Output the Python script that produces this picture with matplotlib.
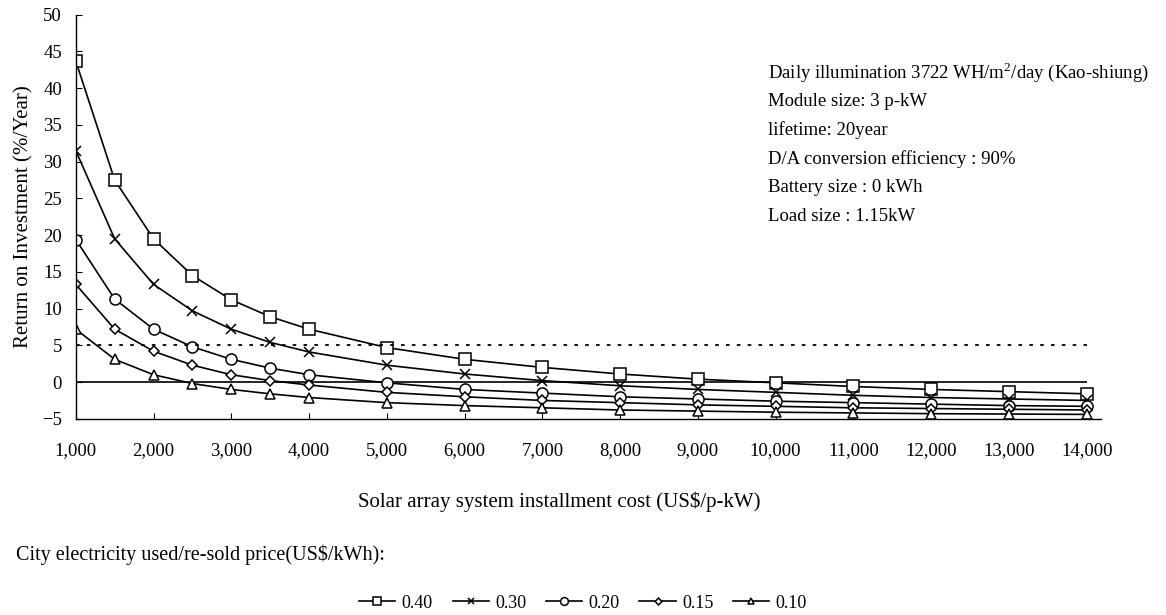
import numpy as np
import matplotlib.pyplot as plt

plt.rcParams['font.family'] = ['Liberation Serif', 'DejaVu Serif']
plt.rcParams['mathtext.fontset'] = 'custom'
plt.rcParams['mathtext.rm'] = 'Liberation Serif'

# installment cost (US$/p-kW)
cost = [1000, 1500, 2000, 2500, 3000, 3500, 4000, 5000, 6000, 7000,
        8000, 9000, 10000, 11000, 12000, 13000, 14000]

# return on investment (%/year) for each electricity price
roi_040 = [43.7, 27.5, 19.5, 14.5, 11.2, 8.9, 7.2, 4.7, 3.1, 2.0,
           1.1, 0.4, -0.1, -0.6, -1.0, -1.3, -1.6]
roi_030 = [31.5, 19.5, 13.3, 9.7, 7.2, 5.4, 4.1, 2.3, 1.1, 0.2,
           -0.5, -1.0, -1.4, -1.8, -2.1, -2.3, -2.5]
roi_020 = [19.4, 11.3, 7.2, 4.8, 3.1, 1.9, 1.0, -0.1, -1.0, -1.5,
           -2.0, -2.3, -2.6, -2.8, -3.0, -3.2, -3.3]
roi_015 = [13.3, 7.2, 4.2, 2.3, 1.0, 0.2, -0.4, -1.4, -2.0, -2.5,
           -2.8, -3.1, -3.3, -3.5, -3.6, -3.7, -3.8]
roi_010 = [7.2, 3.1, 1.0, -0.2, -1.0, -1.6, -2.1, -2.8, -3.2, -3.5,
           -3.8, -3.95, -4.1, -4.2, -4.3, -4.35, -4.4]

series = [roi_040, roi_030, roi_020, roi_015, roi_010]
labels = ['0.40', '0.30', '0.20', '0.15', '0.10']
markers = ['s', 'x', 'o', 'D', '^']
msizes = [8, 7, 8, 5, 7]

target_roi = 5
breakeven = 0

xticks = [1000, 2000, 3000, 4000, 5000, 6000, 7000, 8000, 9000, 10000,
          11000, 12000, 13000, 14000]
yticks = [-5, 0, 5, 10, 15, 20, 25, 30, 35, 40, 45, 50]

info = ['Daily illumination 3722 WH/$\\mathrm{m}^{2}$/day (Kao-shiung)',
        'Module size: 3 p-kW',
        'lifetime: 20year',
        'D/A conversion efficiency : 90%',
        'Battery size : 0 kWh',
        'Load size : 1.15kW']

fig = plt.figure(figsize=(11.66, 6.15), dpi=100)
ax = fig.add_axes([0.065, 0.319, 0.879, 0.657])

for ys, lab, mk, ms in zip(series, labels, markers, msizes):
    if mk == 'x':
        ax.plot(cost, ys, color='black', lw=1.2, marker=mk, ms=ms,
                mew=1.1, label=lab)
    else:
        ax.plot(cost, ys, color='black', lw=1.2, marker=mk, ms=ms,
                mfc='white', mec='black', mew=1.1, label=lab)

ax.hlines(target_roi, cost[0], cost[-1], colors='black', linestyles=(0, (2, 4)), lw=1.3)
ax.hlines(breakeven, cost[0], cost[-1], colors='black', lw=1.2, zorder=1)

ax.set_xlim(1000, 14180)
ax.set_ylim(-5, 50)
ax.set_xticks(xticks)
ax.set_xticklabels(['{:,}'.format(v) for v in xticks])
ax.set_yticks(yticks)
ax.spines['top'].set_visible(False)
ax.spines['right'].set_visible(False)
ax.spines['left'].set_linewidth(1.0)
ax.spines['bottom'].set_linewidth(1.0)
ax.tick_params(axis='x', direction='in', length=4, labelsize=13.5, pad=17)
ax.tick_params(axis='y', direction='in', length=4, labelsize=13.5, pad=10)

ax.set_ylabel('Return on Investment (%/Year)', fontsize=15, labelpad=6)
fig.text(0.48, 1 - 502 / 615, 'Solar array system installment cost (US$/p-kW)',
         fontsize=15, ha='center', va='center')
fig.text(0.014, 1 - 555 / 615, 'City electricity used/re-sold price(US$/kWh):',
         fontsize=14.5, ha='left', va='center')

for i, line in enumerate(info):
    fig.text(0.659, 1 - (72 + 29 * i) / 615, line, fontsize=13.5,
             ha='left', va='center')

fig.legend(loc='center', bbox_to_anchor=(0.5, 1 - 603 / 615), ncol=5,
           frameon=False, fontsize=13, handlelength=2.0, handletextpad=0.35,
           columnspacing=1.1, markerscale=0.7)

fig.savefig('out.png', dpi=100)
